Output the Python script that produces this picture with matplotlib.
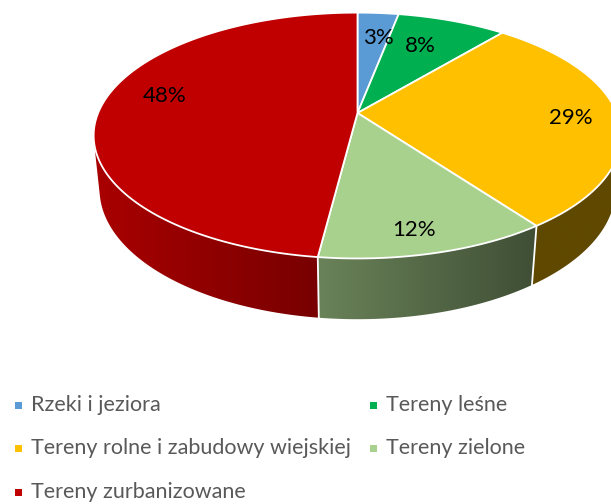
import numpy as np
import matplotlib
matplotlib.use("Agg")
import matplotlib.pyplot as plt
from matplotlib.patches import Polygon, Rectangle
from matplotlib.colors import to_rgb

categories = ["Rzeki i jeziora", "Tereny leśne", "Tereny rolne i zabudowy wiejskiej",
              "Tereny zielone", "Tereny zurbanizowane"]
values = [3, 8, 29, 12, 48]
colors = ["#5B9BD5", "#00B050", "#FFC000", "#A9D18E", "#C00000"]
labels = ["3%", "8%", "29%", "12%", "48%"]

# layout (pixel positions)
label_pos = [(378, 38), (420, 46), (571, 118), (414, 230), (165, 96)]
legend_rows = [(0, 405), (1, 405), (0, 448), (1, 448), (0, 492)]
legend_cols_x = [15, 370]

plt.rcParams["font.family"] = ["Lato", "DejaVu Sans"]

W, H = 611, 504
fig = plt.figure(figsize=(W / 100, H / 100), dpi=100)
ax = fig.add_axes([0, 0, 1, 1])
ax.set_xlim(0, W)
ax.set_ylim(H, 0)
ax.axis("off")

# perspective geometry of tilted disk
cx, cy = 357.5, 113.0
sa = 0.458
ca = np.sqrt(1 - sa ** 2)
d = 4.85
s = 1258.0
h = 0.235


def proj(theta_deg, y=0.0, r=1.0):
    t = np.radians(theta_deg)
    x = r * np.sin(t)
    z = r * np.cos(t)
    Y = z * sa + y * ca
    Zc = d + z * ca - y * sa
    return cx + s * x / Zc, cy - s * Y / Zc


total = sum(values)
bounds = np.concatenate([[0], np.cumsum(values)]) / total * 360.0

# visible side range: 1 + z*d*ca < 0
zlim = -1.0 / (d * ca)
vis0 = np.degrees(np.arccos(zlim))
vis1 = 360 - vis0


def shade(x):
    return np.clip(0.875 - 0.00115 * (x - 100), 0.375, 1.0)


# side walls with horizontal gradient, clipped to wall outline
for i in range(len(values)):
    a0 = max(bounds[i], vis0)
    a1 = min(bounds[i + 1], vis1)
    if a1 <= a0:
        continue
    base = np.array(to_rgb(colors[i]))
    ts = np.linspace(a0, a1, 200)
    top = [proj(t) for t in ts]
    bot = [proj(t, -h) for t in ts[::-1]]
    outline = top + bot
    xs = np.array([p[0] for p in outline])
    ys = np.array([p[1] for p in outline])
    x0, x1 = xs.min() - 1, xs.max() + 1
    y0, y1 = ys.min() - 1, ys.max() + 1
    gx = np.linspace(x0, x1, 256)
    img = (base[None, :] * shade(gx)[:, None])[None, :, :]
    img = np.repeat(img, 2, axis=0)
    poly = Polygon(outline, closed=True, facecolor="none", edgecolor="none")
    ax.add_patch(poly)
    im = ax.imshow(img, extent=(x0, x1, y1, y0), aspect="auto",
                   interpolation="bilinear", zorder=1)
    im.set_clip_path(poly)

ax.set_xlim(0, W)
ax.set_ylim(H, 0)

# side slice boundary lines
for b in bounds[1:-1]:
    if vis0 < b < vis1:
        p = proj(b); q = proj(b, -h)
        ax.plot([p[0], q[0]], [p[1], q[1]], color="white", lw=1.3, zorder=2)

# top face
for i in range(len(values)):
    ts = np.linspace(bounds[i], bounds[i + 1], 200)
    pts = [(cx, cy)] + [proj(t) for t in ts]
    ax.add_patch(Polygon(pts, closed=True, facecolor=colors[i], edgecolor="white",
                         linewidth=1.3, joinstyle="round", zorder=3))

# data labels
for lab, (x, y) in zip(labels, label_pos):
    ax.text(x, y, lab, ha="center", va="center", fontsize=16, color="black", zorder=5)

# legend
for i, (cat, col) in enumerate(zip(categories, colors)):
    c, y = legend_rows[i]
    x = legend_cols_x[c]
    ax.add_patch(Rectangle((x, y - 3.5), 7, 7, facecolor=col, edgecolor="none", zorder=5))
    ax.text(x + 16, y, cat, ha="left", va="center", fontsize=15.5, color="#595959", zorder=5)

fig.savefig("out.png", dpi=100)
